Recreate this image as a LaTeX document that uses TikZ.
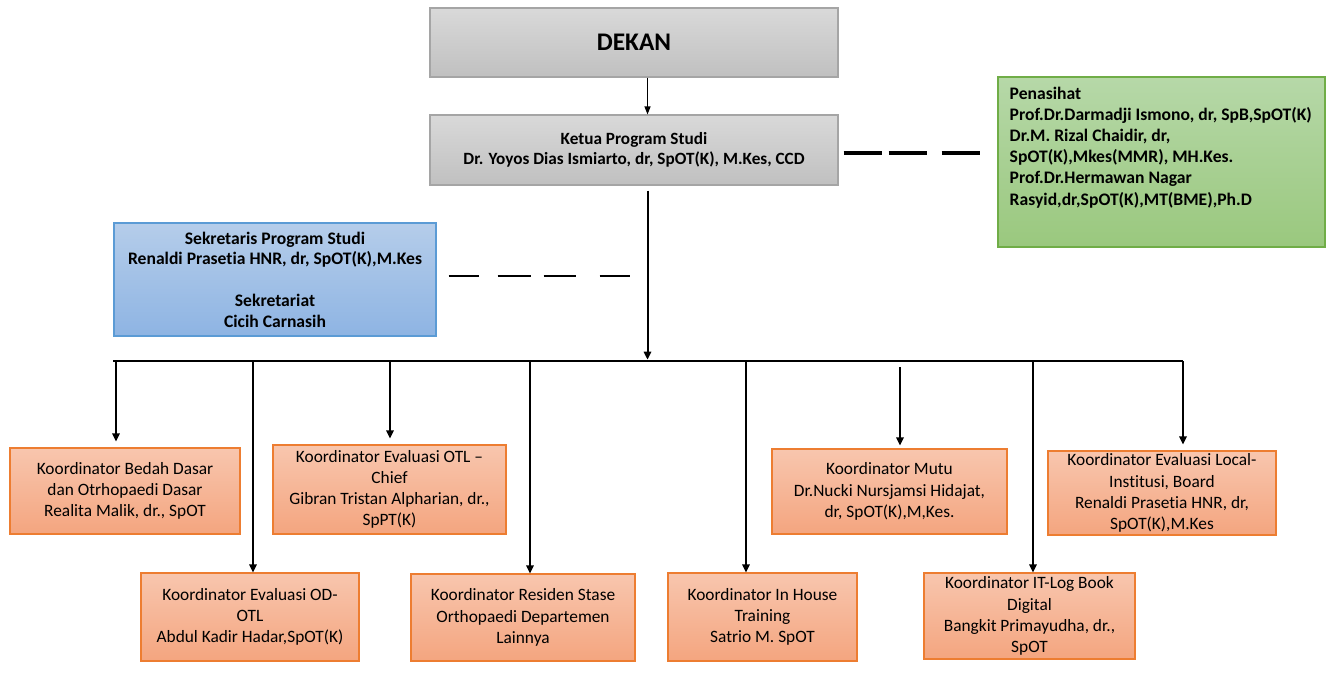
\documentclass[tikz,border=0pt]{standalone}
\usepackage{fontspec}
\setmainfont{Carlito}[Ligatures={NoCommon}]
\usetikzlibrary{arrows.meta}
\definecolor{grayT}{HTML}{D9D9D9}
\definecolor{grayBt}{HTML}{C0C0C0}
\definecolor{grayD}{HTML}{A5A5A5}
\definecolor{orT}{HTML}{F8C6AE}
\definecolor{orBt}{HTML}{F4A57F}
\definecolor{orD}{HTML}{ED7D31}
\definecolor{blT}{HTML}{B5CDEA}
\definecolor{blBt}{HTML}{8EB4E3}
\definecolor{blD}{HTML}{5B9BD5}
\definecolor{grT}{HTML}{B6D8A8}
\definecolor{grBt}{HTML}{9AC87E}
\definecolor{grD}{HTML}{70AD47}
\begin{document}
\begin{tikzpicture}[x=0.75pt,y=-0.75pt,
  sz/.style 2 args={minimum width=#1*0.75pt, minimum height=#2*0.75pt},
  box/.style={draw, line width=0.8pt, inner sep=2pt, align=center},
  gbox/.style={box, draw=grayD, top color=grayT, bottom color=grayBt},
  obox/.style={box, draw=orD, top color=orT, bottom color=orBt, font=\fontsize{13}{15.9}\selectfont},
  bbox/.style={box, draw=blD, top color=blT, bottom color=blBt, font=\bfseries\fontsize{13.2}{15.6}\selectfont},
  grbox/.style={box, draw=grD, top color=grT, bottom color=grBt},
  arr/.style={-{Triangle[width=5.5pt,length=6pt]}, line width=1.5pt},
  thinarr/.style={-{Triangle[width=4.5pt,length=6pt]}, line width=0.8pt}
]
\useasboundingbox (0,0) rectangle (1342,679);
\fill[white] (0,0) rectangle (1342,679);

% top
\node[gbox, sz={408}{69}, font=\bfseries\fontsize{19}{22}\selectfont] (dekan) at (634,42.5) {DEKAN};
\node[gbox, sz={408}{70}, font=\bfseries\fontsize{12.9}{15}\selectfont] (ketua) at (634,150)
  {Ketua Program Studi\\Dr. Yoyos Dias Ismiarto, dr, SpOT(K), M.Kes, CCD};
\node[grbox, sz={327}{170},
  label={[anchor=north west, align=left, inner sep=0pt, xshift=9pt, yshift=-7.5pt,
          font=\bfseries\fontsize{13.2}{15.9}\selectfont]north west:{Penasihat\\
  Prof.Dr.Darmadji Ismono, dr, SpB,SpOT(K)\\
  Dr.M. Rizal Chaidir, dr,\\
  SpOT(K),Mkes(MMR), MH.Kes.\\
  Prof.Dr.Hermawan Nagar\\
  Rasyid,dr,SpOT(K),MT(BME),Ph.D}}] (pen) at (1161.5,162) {};
\node[bbox, sz={322}{113}] (sek) at (275,279.5)
  {Sekretaris Program Studi\\Renaldi Prasetia HNR, dr, SpOT(K),M.Kes\\[15.6pt]Sekretariat\\Cicih Carnasih};

% coordinator boxes
\node[obox, sz={230}{86}] (b1) at (125,491) {Koordinator Bedah Dasar\\dan Otrhopaedi Dasar\\Realita Malik, dr., SpOT};
\node[obox, sz={218}{88}] (b2) at (250,617) {Koordinator Evaluasi OD-\\OTL\\Abdul Kadir Hadar,SpOT(K)};
\node[obox, sz={233}{89}] (b3) at (389.5,489.5) {Koordinator Evaluasi OTL --\\Chief\\Gibran Tristan Alpharian, dr.,\\SpPT(K)};
\node[obox, sz={224}{87}] (b4) at (523,617.5) {Koordinator Residen Stase\\Orthopaedi Departemen\\Lainnya};
\node[obox, sz={189}{88}] (b5) at (762.5,617) {Koordinator In House\\Training\\Satrio M. SpOT};
\node[obox, sz={235}{85}] (b6) at (889.5,491.5) {Koordinator Mutu\\Dr.Nucki Nursjamsi Hidajat,\\dr, SpOT(K),M,Kes.};
\node[obox, sz={211}{86}] (b7) at (1029.5,616) {Koordinator IT-Log Book\\Digital\\Bangkit Primayudha, dr.,\\SpOT};
\node[obox, sz={228}{84}] (b8) at (1162,493) {Koordinator Evaluasi Local-\\Institusi, Board\\Renaldi Prasetia HNR, dr,\\SpOT(K),M.Kes};

% connectors
\coordinate (spine) at (647.5,361);
\coordinate (barL) at (113,361);
\coordinate (barR) at (1183,361);
\draw[thinarr] (dekan.south -| spine) -- (ketua.north -| spine);
\draw[arr, shorten <=5*0.75pt] (ketua.south -| spine) -- ([yshift=1pt]spine);
\draw[line width=2pt] (barL) -- (barR);
\draw[line width=2.6pt, dash pattern=on 28.5pt off 5.25pt on 28.5pt off 11.25pt]
  ([xshift=5*0.75pt, yshift=-3*0.75pt]ketua.east) -- ([xshift=-16*0.75pt, yshift=-3*0.75pt]pen.west |- ketua.east);
\coordinate (sekend) at (632,276);
\draw[line width=1.5pt, dash pattern=on 22.5pt off 14.25pt on 24.75pt off 9.75pt on 24pt off 18pt]
  (sek.east |- sekend) ++(12,0) -- (sekend);

\foreach \x/\b in {116/b1,390/b3,1183/b8}{
  \coordinate (d\b) at (\x,361);
  \draw[arr, shorten >=6*0.75pt] (d\b) -- (d\b |- \b.north);
}
\coordinate (db6) at (900,367);
\draw[arr, shorten >=3*0.75pt] (db6) -- (db6 |- b6.north);
\foreach \x/\b in {253/b2,530/b4,746/b5,1033/b7}{
  \coordinate (d\b) at (\x,361);
  \draw[arr, line width=1.2pt] (d\b) -- (d\b |- \b.north);
}
\end{tikzpicture}
\end{document}
